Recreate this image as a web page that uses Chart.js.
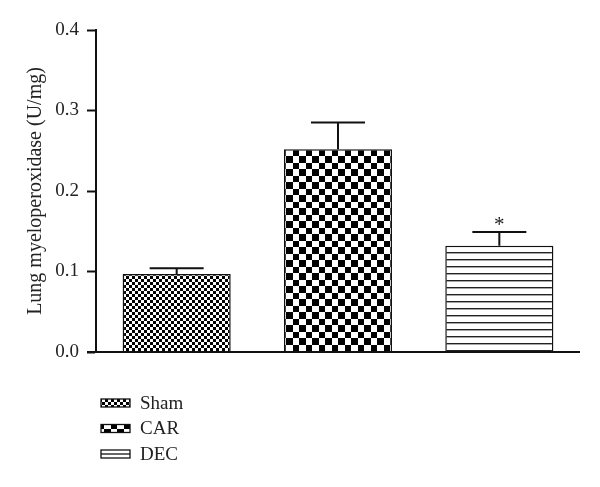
<!DOCTYPE html>
<html>
<head>
<meta charset="utf-8">
<script src="https://cdn.jsdelivr.net/npm/chart.js@4"></script>
<style>
  html, body { margin: 0; padding: 0; background: #fff; }
  #wrap { width: 600px; height: 487px; }
</style>
</head>
<body>
<div id="wrap"><canvas id="myChart" width="600" height="487"></canvas></div>
<script>
const categories = ['Sham', 'CAR', 'DEC'];
const means = [0.097, 0.252, 0.132];
const errors = [0.007, 0.033, 0.017];
const marks = ['', '', '*'];
const yTicks = [0.0, 0.1, 0.2, 0.3, 0.4];

const FONT = "'Liberation Serif', 'DejaVu Serif', serif";

// fill patterns for the three groups
function checker(cell, period) {
  const c = document.createElement('canvas');
  c.width = period; c.height = period;
  const g = c.getContext('2d');
  g.fillStyle = '#fff';
  g.fillRect(0, 0, period, period);
  g.fillStyle = '#000';
  g.fillRect(0, 0, cell, cell);
  g.fillRect(cell, cell, period - cell, period - cell);
  return g.createPattern(c, 'repeat');
}
function stripes(period) {
  const c = document.createElement('canvas');
  c.width = 8; c.height = period;
  const g = c.getContext('2d');
  g.fillStyle = '#fff';
  g.fillRect(0, 0, 8, period);
  g.fillStyle = '#222';
  g.fillRect(0, 0, 8, 1.4);
  return g.createPattern(c, 'repeat');
}
const fills = [checker(3, 6), checker(7, 13), stripes(7)];

const errorBars = {
  id: 'errorBars',
  afterDatasetsDraw(chart) {
    const ctx = chart.ctx;
    const y = chart.scales.y;
    const meta = chart.getDatasetMeta(0);
    ctx.save();
    ctx.strokeStyle = '#111';
    ctx.lineWidth = 2;
    meta.data.forEach((bar, i) => {
      const top = y.getPixelForValue(means[i]);
      const cap = y.getPixelForValue(means[i] + errors[i]);
      ctx.beginPath();
      ctx.moveTo(bar.x, top);
      ctx.lineTo(bar.x, cap);
      ctx.moveTo(bar.x - 27, cap);
      ctx.lineTo(bar.x + 27, cap);
      ctx.stroke();
      if (marks[i]) {
        ctx.fillStyle = '#222';
        ctx.font = '21px ' + FONT;
        ctx.textAlign = 'center';
        ctx.textBaseline = 'bottom';
        ctx.fillText(marks[i], bar.x, cap + 4);
      }
    });
    // x axis line, running a little past the y axis
    const area = chart.chartArea;
    ctx.beginPath();
    ctx.moveTo(area.left - 9, area.bottom);
    ctx.lineTo(area.right, area.bottom);
    ctx.stroke();
    ctx.restore();
  }
};

const sideLegend = {
  id: 'sideLegend',
  afterDraw(chart) {
    const ctx = chart.ctx;
    ctx.save();
    ctx.font = '19px ' + FONT;
    ctx.textBaseline = 'middle';
    ctx.fillStyle = '#222';
    categories.forEach((name, i) => {
      const cy = 403 + i * 25.5;
      const x = 101, w = 29, h = 8;
      if (i === 2) {
        ctx.fillStyle = '#fff';
        ctx.fillRect(x, cy - h / 2, w, h);
        ctx.strokeStyle = '#111';
        ctx.lineWidth = 1.3;
        ctx.strokeRect(x, cy - h / 2, w, h);
        ctx.beginPath();
        ctx.moveTo(x, cy);
        ctx.lineTo(x + w, cy);
        ctx.stroke();
      } else {
        ctx.fillStyle = fills[i];
        ctx.fillRect(x, cy - h / 2, w, h);
        ctx.strokeStyle = '#111';
        ctx.lineWidth = 1.3;
        ctx.strokeRect(x, cy - h / 2, w, h);
      }
      ctx.fillStyle = '#222';
      ctx.fillText(name, 140, cy + 1);
    });
    ctx.restore();
  }
};

const ctx = document.getElementById('myChart');

new Chart(ctx, {
  type: 'bar',
  data: {
    labels: categories,
    datasets: [{
      label: 'Lung myeloperoxidase',
      data: means,
      backgroundColor: fills,
      borderColor: '#111',
      borderWidth: 1.5,
      barPercentage: 0.67,
      categoryPercentage: 1
    }]
  },
  options: {
    responsive: false,
    animation: false,
    layout: { padding: { top: 30, right: 20, bottom: 135, left: 0 } },
    plugins: {
      legend: { display: false },
      tooltip: { enabled: false }
    },
    scales: {
      x: {
        grid: { display: false },
        border: { display: false },
        ticks: { display: false },
        afterFit(scale) { scale.height = 0; }
      },
      y: {
        min: 0,
        max: 0.4,
        afterBuildTicks(scale) { scale.ticks = yTicks.map(v => ({ value: v })); },
        afterFit(scale) { scale.width = 96; },
        ticks: {
          padding: 8,
          color: '#222',
          font: { family: FONT, size: 19 },
          callback: v => v.toFixed(1)
        },
        grid: {
          drawOnChartArea: false,
          tickLength: 9,
          tickColor: '#111',
          tickWidth: 2
        },
        border: { color: '#111', width: 2 },
        title: {
          display: true,
          text: 'Lung myeloperoxidase (U/mg)',
          color: '#222',
          font: { family: FONT, size: 20 },
          padding: { top: 24, bottom: 0 }
        }
      }
    }
  },
  plugins: [errorBars, sideLegend]
});
</script>
</body>
</html>
